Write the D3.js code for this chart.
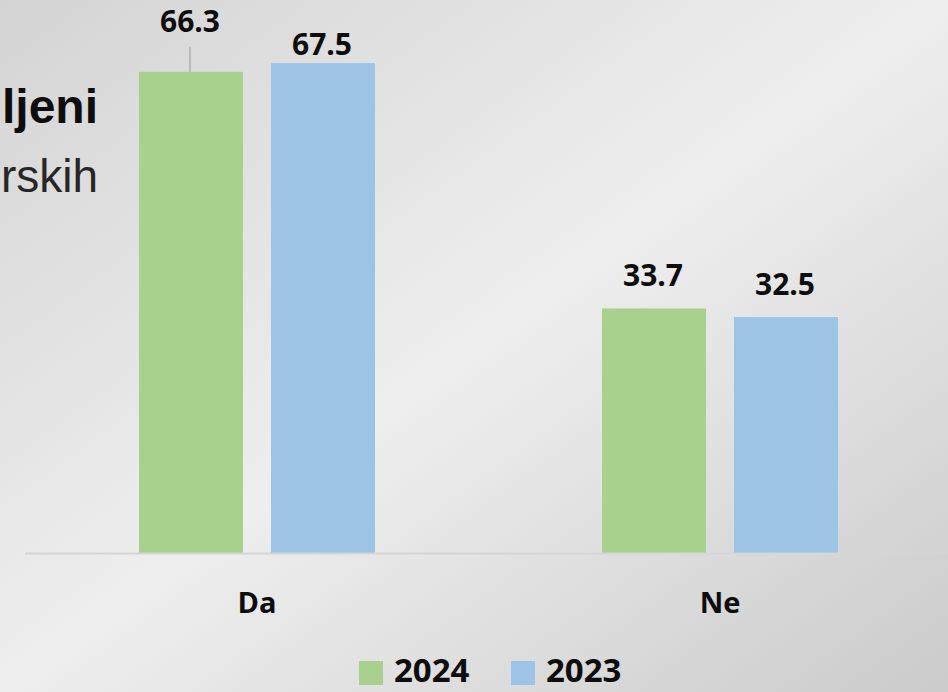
<!DOCTYPE html>
<html>
<head>
<meta charset="utf-8">
<script src="https://cdn.jsdelivr.net/npm/d3@7"></script>
<style>
  html, body { margin: 0; padding: 0; overflow: hidden; }
  svg { display: block; }
</style>
</head>
<body>
<script>
// chart data
var categories = ["Da", "Ne"];
var series = ["2024", "2023"];
var values2024 = [66.3, 33.7];
var values2023 = [67.5, 32.5];
var colors = ["#a9d18e", "#9dc3e6"];

var w = 948;
var h = 692;
var baseline = 553;
var font = "'Open Sans', sans-serif";

// how far each value label sits above its bar (per category, per series)
var labelLift = [[40, 8.5], [22, 22]];

var rows = categories.map(function(c, i) {
  return { cat: c, vals: [values2024[i], values2023[i]] };
});

var svg = d3.select("body")
  .append("svg")
  .attr("width", w)
  .attr("height", h);

// background gradient
var grad = svg.append("defs").append("linearGradient")
  .attr("id", "bg")
  .attr("x1", 0).attr("y1", 0)
  .attr("x2", 1).attr("y2", 1);
grad.append("stop").attr("offset", 0).attr("stop-color", "#d4d4d4");
grad.append("stop").attr("offset", 0.5).attr("stop-color", "#eeeeee");
grad.append("stop").attr("offset", 1).attr("stop-color", "#cbcbcb");

svg.append("rect")
  .attr("width", w)
  .attr("height", h)
  .attr("fill", "url(#bg)");

// title fragments (cut off at the left edge)
svg.append("text")
  .attr("x", 98).attr("y", 123)
  .attr("text-anchor", "end")
  .style("font-family", "'Liberation Sans', Arial, sans-serif")
  .style("font-weight", "bold")
  .style("font-size", "48px")
  .attr("fill", "#0d0d0d")
  .text("ljeni");
svg.append("text")
  .attr("x", 98).attr("y", 192)
  .attr("text-anchor", "end")
  .style("font-family", "'Liberation Sans', Arial, sans-serif")
  .style("font-size", "46px")
  .attr("fill", "#262626")
  .text("rskih");

// scales
var x0 = d3.scaleBand()
  .domain(categories)
  .range([25.5, 951.5])
  .padding(0);

var x1 = d3.scaleBand()
  .domain(series)
  .range([-118, 118])
  .paddingInner(0.212)
  .paddingOuter(0);

var y = d3.scaleLinear()
  .domain([0, 76.2])
  .range([baseline, 0]);

// bars
var groups = svg.selectAll("g.cat")
  .data(rows)
  .enter()
  .append("g")
  .attr("class", "cat")
  .attr("transform", function(d) {
    return "translate(" + (x0(d.cat) + x0.bandwidth() / 2) + ",0)";
  });

groups.selectAll("rect")
  .data(function(d) { return d.vals; })
  .enter()
  .append("rect")
  .attr("x", function(d, i) { return x1(series[i]); })
  .attr("y", function(d) { return y(d); })
  .attr("width", x1.bandwidth())
  .attr("height", function(d) { return baseline - y(d); })
  .attr("fill", function(d, i) { return colors[i]; });

// leader line for the lifted label
groups.selectAll("line.leader")
  .data(function(d, ci) {
    return d.vals.map(function(v, i) { return { v: v, i: i, ci: ci }; })
      .filter(function(o) { return labelLift[o.ci][o.i] > 30; });
  })
  .enter()
  .append("line")
  .attr("class", "leader")
  .attr("x1", function(o) { return x1(series[o.i]) + x1.bandwidth() / 2 - 1; })
  .attr("x2", function(o) { return x1(series[o.i]) + x1.bandwidth() / 2 - 1; })
  .attr("y1", function(o) { return y(o.v) - labelLift[o.ci][o.i] + 15; })
  .attr("y2", function(o) { return y(o.v); })
  .attr("stroke", "#a6a6a6")
  .attr("stroke-width", 1.2);

// value labels
groups.selectAll("text.val")
  .data(function(d, ci) {
    return d.vals.map(function(v, i) { return { v: v, i: i, ci: ci }; });
  })
  .enter()
  .append("text")
  .attr("class", "val")
  .attr("x", function(o) { return x1(series[o.i]) + x1.bandwidth() / 2 - 1; })
  .attr("y", function(o) { return y(o.v) - labelLift[o.ci][o.i]; })
  .attr("text-anchor", "middle")
  .style("font-family", font)
  .style("font-weight", "bold")
  .style("font-size", "30px")
  .attr("fill", "#0d0d0d")
  .text(function(o) { return d3.format(".1f")(o.v); });

// x axis
var xAxis = svg.append("g")
  .attr("transform", "translate(0," + baseline + ")")
  .call(d3.axisBottom(x0).tickSize(0).tickPadding(39));

xAxis.select(".domain")
  .attr("d", "M25,0.5H" + w)
  .attr("stroke", "#d5d5d5")
  .attr("stroke-width", 2);

xAxis.selectAll("text")
  .style("font-family", font)
  .style("font-weight", "bold")
  .style("font-size", "29px")
  .attr("fill", "#0d0d0d");

// legend
var legend = svg.selectAll("g.legend")
  .data(series)
  .enter()
  .append("g")
  .attr("class", "legend")
  .attr("transform", function(d, i) {
    return "translate(" + (359 + i * 152) + ",661)";
  });

legend.append("rect")
  .attr("width", 24)
  .attr("height", 24)
  .attr("fill", function(d, i) { return colors[i]; });

legend.append("text")
  .attr("x", 35)
  .attr("y", 21)
  .style("font-family", font)
  .style("font-weight", "bold")
  .style("font-size", "33px")
  .attr("fill", "#0d0d0d")
  .text(function(d) { return d; });
</script>
</body>
</html>
